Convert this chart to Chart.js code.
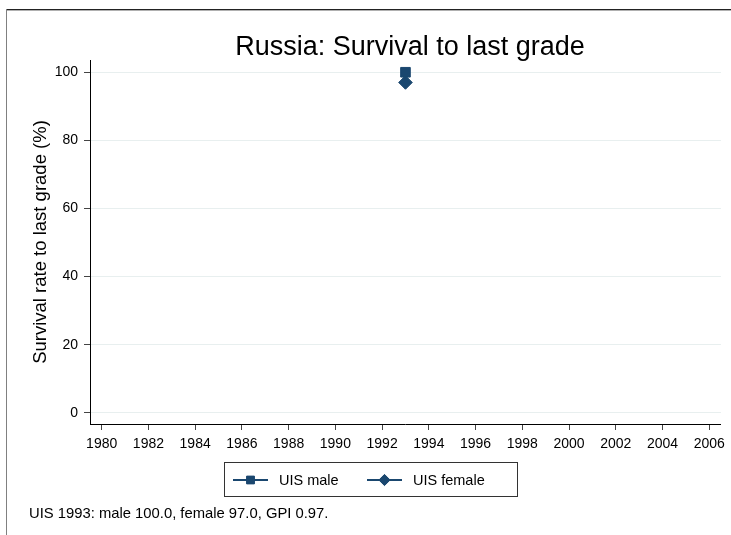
<!DOCTYPE html>
<html>
<head>
<meta charset="utf-8">
<script src="https://cdn.jsdelivr.net/npm/chart.js@4.4.1/dist/chart.umd.min.js"></script>
<style>
html,body{margin:0;padding:0;background:#fff;}
#wrap{width:731px;height:535px;position:relative;}
</style>
</head>
<body>
<div id="wrap"><canvas id="c" width="731" height="535"></canvas></div>
<script>
// ---- data ----
const chartTitle = 'Russia: Survival to last grade';
const yAxisTitle = 'Survival rate to last grade (%)';
const years = [1993];
const maleValues = [100.0];
const femaleValues = [97.0];
const seriesNames = ['UIS male', 'UIS female'];
const xTicks = [1980,1982,1984,1986,1988,1990,1992,1994,1996,1998,2000,2002,2004,2006];
const yTicks = [0,20,40,60,80,100];
const footnote = 'UIS 1993: male 100.0, female 97.0, GPI 0.97.';

const NAVY = '#1a476f';
const FONT = '"Liberation Sans", Arial, sans-serif';

const malePts = years.map((y,i)=>({x:y,y:maleValues[i]}));
const femalePts = years.map((y,i)=>({x:y,y:femaleValues[i]}));

const decor = {
  id:'decor',
  beforeDraw(chart){
    const ctx = chart.ctx;
    ctx.save();
    ctx.fillStyle='#fff';
    ctx.fillRect(0,0,chart.width,chart.height);
    ctx.fillStyle='#222';
    ctx.fillRect(6,9,725,1);
    ctx.fillStyle='#b0b0b0';
    ctx.fillRect(7,10,724,1);
    ctx.fillStyle='#808080';
    ctx.fillRect(6,9,1,526);
    ctx.restore();
  },
  afterDraw(chart){
    const ctx = chart.ctx;
    const ds = chart.data.datasets;
    ctx.save();
    // title
    ctx.fillStyle='#000';
    ctx.font = '27px ' + FONT;
    ctx.textAlign='center';
    ctx.textBaseline='alphabetic';
    ctx.fillText(chartTitle, 410, 55);
    // legend box
    ctx.strokeStyle='#333';
    ctx.lineWidth=1;
    ctx.strokeRect(224.5,462.5,293,34);
    const items = [
      {x0:233, x1:268, tx:279, style:ds[0].pointStyle, r:5.5},
      {x0:367, x1:402, tx:413, style:ds[1].pointStyle, r:5.6}
    ];
    const ly = 480;
    ctx.font='14.5px ' + FONT;
    ctx.textAlign='left';
    ctx.textBaseline='middle';
    items.forEach((it,i)=>{
      ctx.strokeStyle=ds[i].borderColor;
      ctx.lineWidth=2;
      ctx.beginPath();
      ctx.moveTo(it.x0,ly);ctx.lineTo(it.x1,ly);ctx.stroke();
      ctx.fillStyle=ds[i].backgroundColor;
      ctx.lineWidth=1;
      Chart.helpers.drawPoint(ctx,{pointStyle:it.style,radius:it.r,borderWidth:1},(it.x0+it.x1)/2,ly);
      ctx.fill();
      ctx.fillStyle='#000';
      ctx.fillText(ds[i].label,it.tx,ly+0.5);
    });
    // footnote
    ctx.font='14.8px ' + FONT;
    ctx.fillStyle='#000';
    ctx.fillText(footnote,29,514);
    ctx.restore();
  }
};

new Chart(document.getElementById('c'),{
  type:'scatter',
  data:{
    datasets:[
      {label:seriesNames[0],data:malePts,pointStyle:'rect',pointRadius:6.8,pointHoverRadius:6.8,
       backgroundColor:NAVY,borderColor:NAVY,borderWidth:1,showLine:true},
      {label:seriesNames[1],data:femalePts,pointStyle:'rectRot',pointRadius:6.8,pointHoverRadius:6.8,
       backgroundColor:NAVY,borderColor:NAVY,borderWidth:1,showLine:true}
    ]
  },
  plugins:[decor],
  options:{
    responsive:false,
    animation:false,
    events:[],
    layout:{padding:{left:30,right:9,top:60,bottom:81}},
    plugins:{legend:{display:false},title:{display:false},tooltip:{enabled:false}},
    scales:{
      x:{
        type:'linear',min:1979.5,max:2006.5,
        afterFit(s){s.height=30;},
        afterBuildTicks(s){s.ticks=xTicks.map(v=>({value:v}));},
        grid:{drawOnChartArea:false,tickLength:6,tickColor:'#444',color:'#444'},
        border:{display:true,color:'#000',width:1},
        ticks:{color:'#000',font:{family:FONT,size:14},padding:6,maxRotation:0,autoSkip:false,
               callback:v=>String(v)}
      },
      y:{
        min:-3.3,max:103.6,
        afterFit(s){s.width=60;},
        afterBuildTicks(s){s.ticks=yTicks.map(v=>({value:v}));},
        grid:{drawOnChartArea:true,color:'#e8efef',tickLength:6,tickColor:'#444'},
        border:{display:true,color:'#000',width:1},
        ticks:{color:'#000',font:{family:FONT,size:14},padding:6,autoSkip:false,callback:v=>String(v)},
        title:{display:true,text:yAxisTitle,color:'#000',font:{family:FONT,size:18.5},padding:{top:0,bottom:0}}
      }
    }
  }
});
</script>
</body>
</html>
